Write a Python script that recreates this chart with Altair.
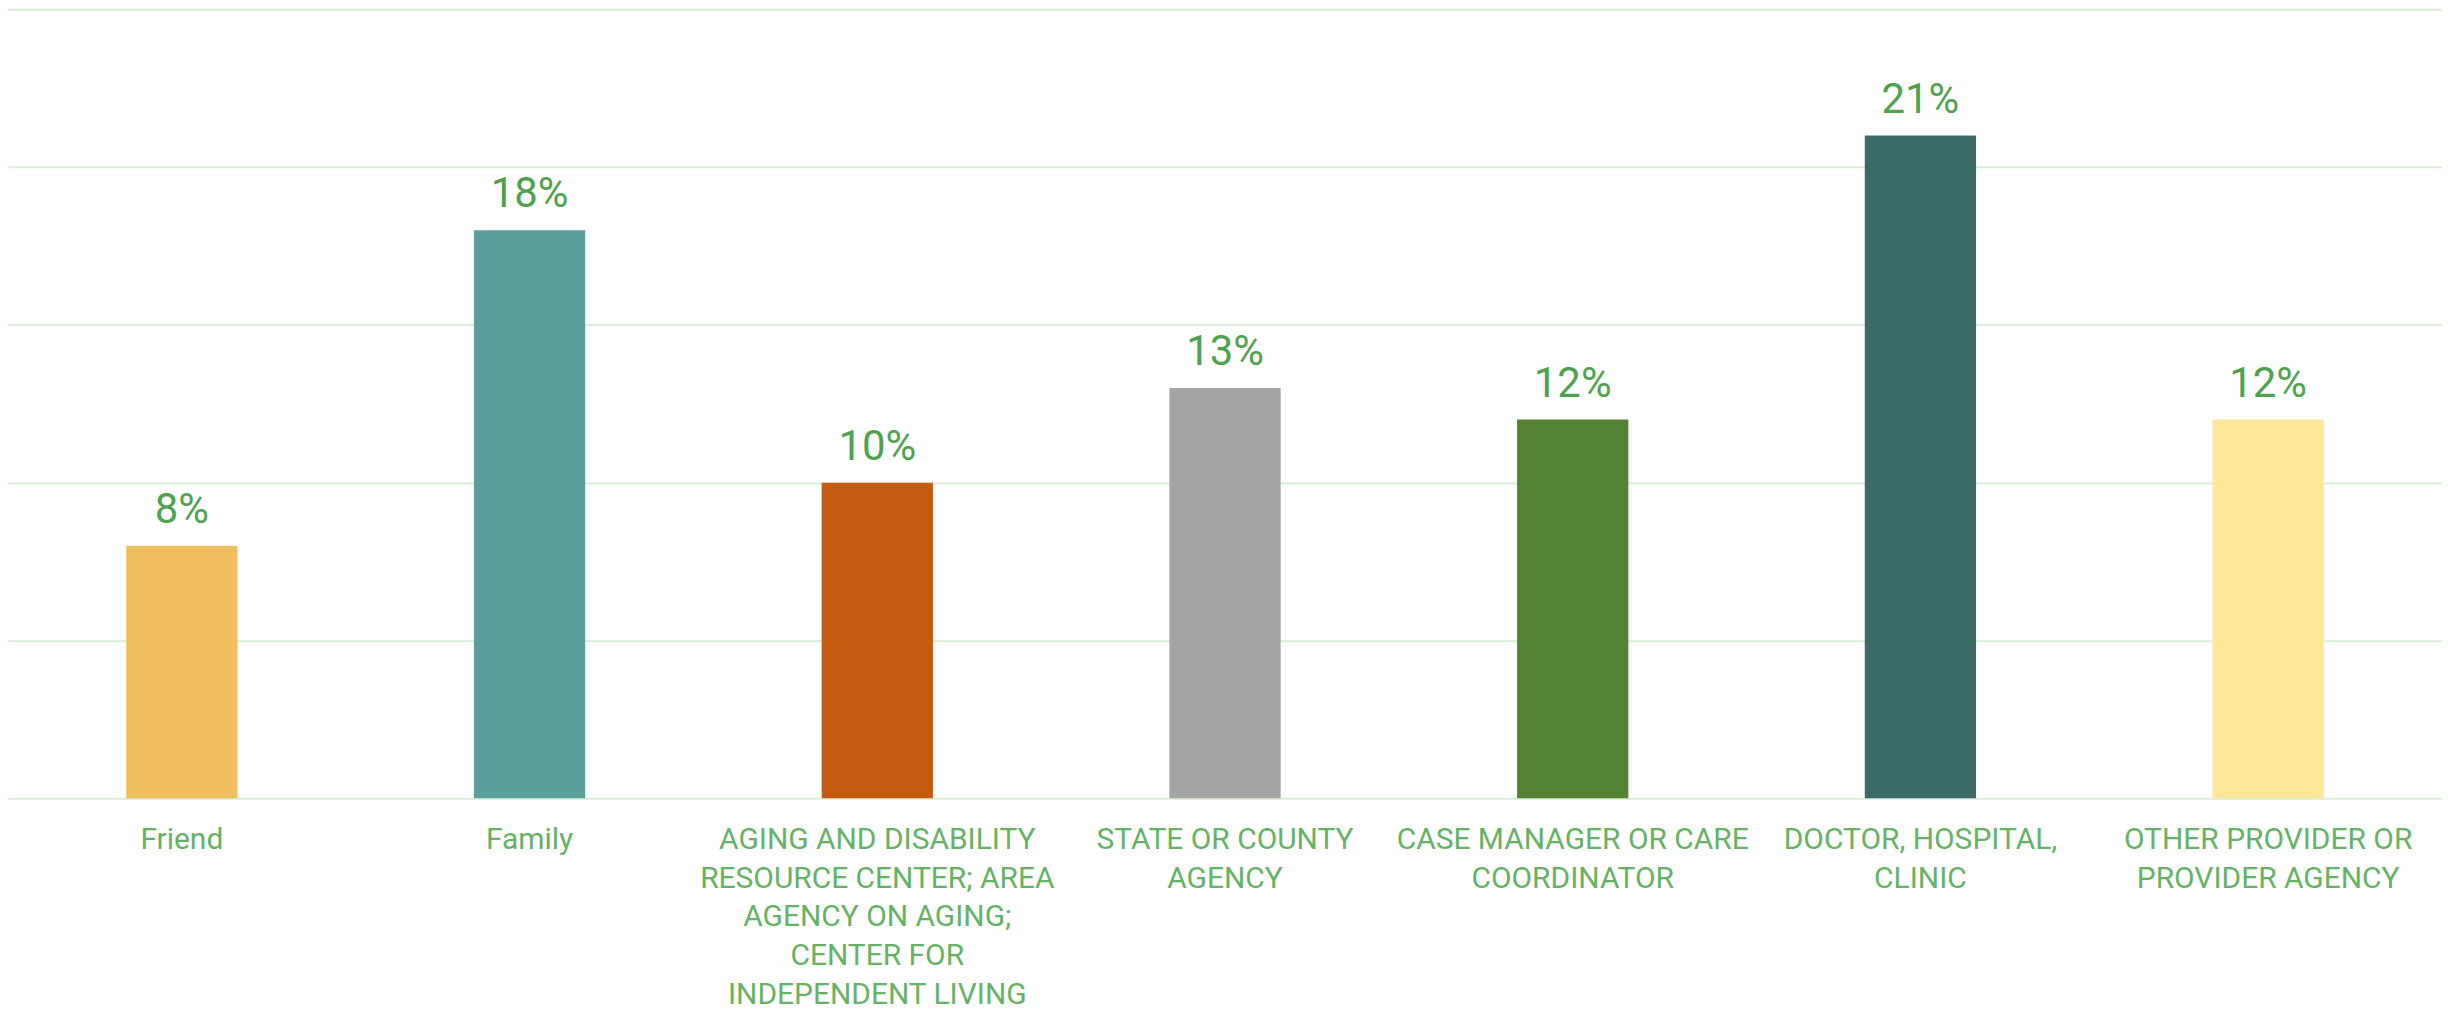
import altair as alt
import pandas as pd

categories = [
    "Friend",
    "Family",
    "AGING AND DISABILITY\nRESOURCE CENTER; AREA\nAGENCY ON AGING;\nCENTER FOR\nINDEPENDENT LIVING",
    "STATE OR COUNTY\nAGENCY",
    "CASE MANAGER OR CARE\nCOORDINATOR",
    "DOCTOR, HOSPITAL,\nCLINIC",
    "OTHER PROVIDER OR\nPROVIDER AGENCY",
]
values = [8, 18, 10, 13, 12, 21, 12]
colors = ["#EFBF5F", "#5B9E9C", "#C55A11", "#A5A5A5", "#548235", "#3D6B68", "#FFE699"]

df = pd.DataFrame({"cat": categories, "value": values, "label": [f"{v}%" for v in values]})

x = alt.X(
    "cat:N",
    sort=categories,
    scale=alt.Scale(paddingInner=0.68, paddingOuter=0.34),
    axis=alt.Axis(
        title=None,
        labelAngle=0,
        labelExpr="split(datum.label, '\\n')",
        labelFont="Roboto",
        labelFontSize=30,
        labelColor="#65B265",
        labelLineHeight=39,
        labelPadding=26,
        labelLimit=0,
        ticks=False,
        domain=False,
        labelBaseline="top",
    ),
)
y = alt.Y(
    "value:Q",
    scale=alt.Scale(domain=[0, 25], nice=False),
    axis=alt.Axis(
        title=None,
        values=[0, 5, 10, 15, 20, 25],
        labels=False,
        ticks=False,
        domain=False,
        grid=True,
        gridColor="#D9EDD9",
        gridWidth=2,
    ),
)

bars = alt.Chart(df).mark_bar().encode(
    x=x,
    y=y,
    color=alt.Color("cat:N", sort=categories, scale=alt.Scale(domain=categories, range=colors), legend=None),
)
text = alt.Chart(df).mark_text(
    baseline="alphabetic", dy=-23, font="Roboto", fontSize=42, color="#4EA24E"
).encode(x=alt.X("cat:N", sort=categories), y="value:Q", text="label:N")

chart = (
    alt.layer(bars, text)
    .properties(width=2440, height=791, padding=0)
    .configure_view(stroke=None)
)
chart.save("out.html", embed_options={"renderer": "svg", "actions": False})
